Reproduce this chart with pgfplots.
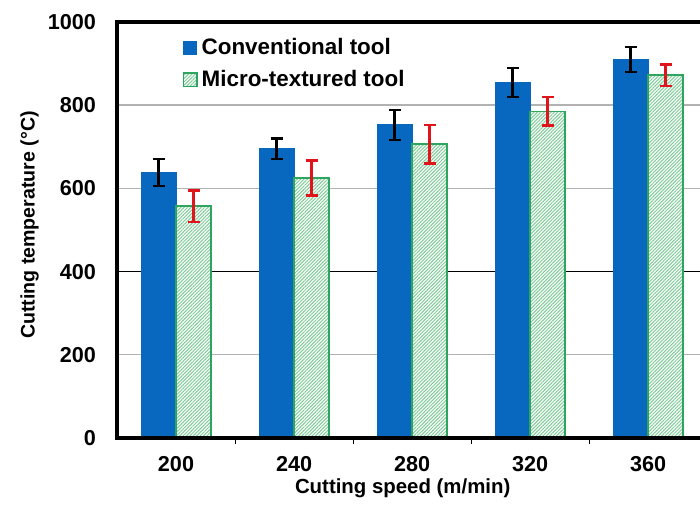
\documentclass[border=0pt]{standalone}
\usepackage{pgfplots}
\pgfplotsset{compat=1.18}
\usepackage{fontspec}
\setmainfont{Liberation Sans}
\usetikzlibrary{patterns.meta}
\definecolor{cblue}{HTML}{0868C0}
\definecolor{cgreen}{HTML}{2EA55E}
\definecolor{chatch}{HTML}{7FCC98}
\definecolor{cred}{HTML}{E0151B}
\begin{document}
\begin{tikzpicture}
\begin{axis}[
  name=ax,
  at={(0,0)}, anchor=south west,
  scale only axis, width=291.5pt, height=208pt,
  xmin=-0.5, xmax=4.44, ymin=0, ymax=1000,
  ytick={0,200,...,1000},
  xtick={0,1,2,3,4}, xticklabels={200,240,280,320,360},
  xtick pos=left,
  major x tick style={draw=none},
  minor xtick={0.5,1.5,2.5,3.5},
  minor tick length=3pt,
  minor x tick style={black, line width=0.4pt},
  major y tick style={draw=none},
  ymajorgrids, grid style={gray!60, line width=0.7pt},
  extra y ticks={400}, extra y tick labels={},
  extra y tick style={grid style={black, line width=0.7pt}, major y tick style={draw=none}},
  axis line style={draw=none},
  ybar, bar width=17.5pt,
  /pgf/number format/assume math mode=true,
  /pgf/number format/1000 sep={},
  tick label style={font=\fontsize{10.8}{12}\selectfont\bfseries},
  yticklabel style={xshift=-7pt},
  xticklabel style={yshift=-1.5pt},
  xlabel={Cutting speed (m/min)},
  ylabel={Cutting temperature (°C)},
  xlabel style={at={(axis description cs:0.49,-0.122)}, anchor=center, font=\fontsize{10.2}{12}\selectfont\bfseries},
  ylabel style={at={(axis description cs:-0.15,0.512)}, anchor=center, font=\fontsize{9.8}{12}\selectfont\bfseries},
  legend cell align=left,
  legend style={at={(axis description cs:0.112,0.972)}, anchor=north west, draw=none, fill=none,
    font=\fontsize{11.2}{13}\selectfont\bfseries, row sep=2.5pt, inner sep=0pt},
  legend image code/.code={\draw[#1] (0pt,-3.3pt) rectangle (6.6pt,3.3pt);},
]
\addplot[fill=cblue, draw=cblue, bar shift=-8.75pt,
  error bars/.cd, y dir=both, y explicit,
  error bar style={line width=1.2pt, black},
  error mark options={rotate=90, mark size=3pt, line width=1.2pt, black}]
  coordinates {(0,638) +- (0,32) (1,695) +- (0,25) (2,753) +- (0,36) (3,855) +- (0,35) (4,910) +- (0,30)};
\addlegendentry{Conventional tool}
\addplot[fill=white, draw=cgreen, line width=0.9pt, bar shift=8.75pt,
  postaction={pattern color=chatch, pattern={Lines[angle=45, distance=1.2pt, line width=0.5pt]}},
  error bars/.cd, y dir=both, y explicit,
  error bar style={line width=1.2pt, cred},
  error mark options={rotate=90, mark size=3pt, line width=1.2pt, cred}]
  coordinates {(0,557) +- (0,38) (1,625) +- (0,42) (2,706) +- (0,46) (3,785) +- (0,34) (4,872) +- (0,26)};
\addlegendentry{Micro-textured tool}
\end{axis}
\draw[line width=2pt, line cap=rect] (ax.north east) -- (ax.north west) -- (ax.south west) -- (ax.south east);
\pgfresetboundingbox
\useasboundingbox (-58.5pt,-34.5pt) rectangle (291.5pt,219pt);
\end{tikzpicture}
\end{document}
